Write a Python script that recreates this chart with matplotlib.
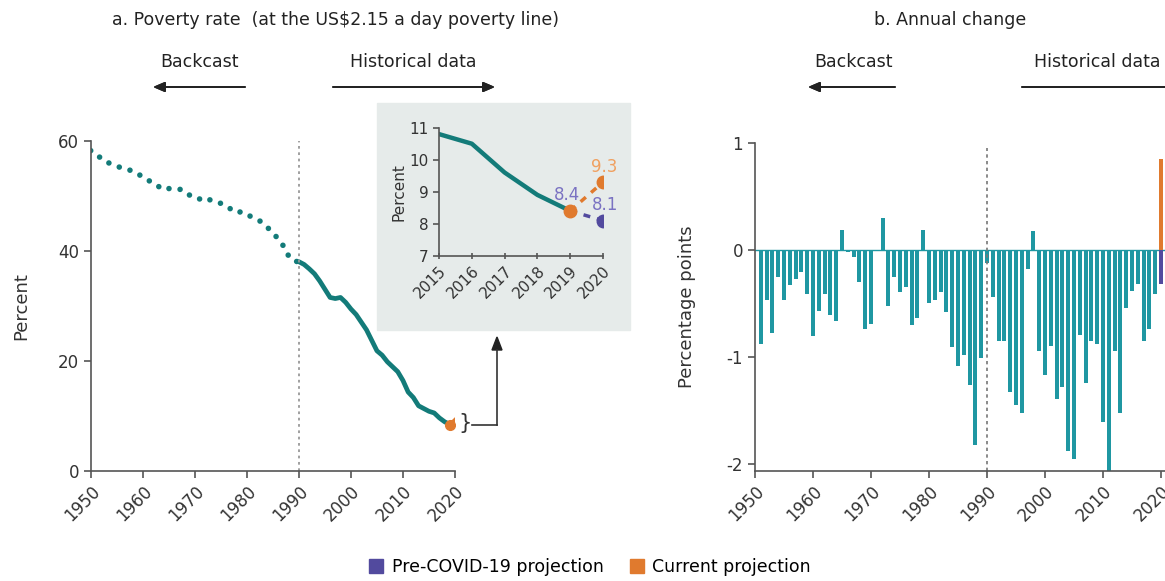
import matplotlib.pyplot as plt
from matplotlib.lines import Line2D
from matplotlib.patches import Patch, Rectangle

plt.rcParams["font.family"] = ["Liberation Sans Narrow", "DejaVu Sans"]

# panel a: poverty rate (percent), 1950-2019
rate_years = list(range(1950, 2020))
rate = [
    58.2, 57.3, 56.9, 56.1, 55.8, 55.4, 55.0, 54.8, 54.5, 54.1,
    53.3, 52.8, 52.4, 51.7, 51.1, 51.3, 51.2, 51.2, 50.9, 50.1,
    49.5, 49.4, 49.7, 49.2, 49.0, 48.6, 48.2, 47.5, 46.9, 47.1,
    46.6, 46.1, 45.7, 45.1, 44.2, 43.2, 42.2, 40.9, 39.1, 38.1,
    38.0, 37.5, 36.7, 35.8, 34.5, 33.0, 31.5, 31.3, 31.5, 30.6,
    29.4, 28.4, 27.0, 25.6, 23.7, 21.8, 21.0, 19.8, 18.9, 18.0,
    16.4, 14.3, 13.3, 11.8, 11.3, 10.8, 10.5, 9.6, 8.9, 8.4,
]

# inset
inset_years = [2015, 2016, 2017, 2018, 2019]
inset_rate = [10.8, 10.5, 9.6, 8.9, 8.4]
proj_years = [2019, 2020]
pre_covid = [8.4, 8.1]
current = [8.4, 9.3]

# panel b: annual change (percentage points), 1951-2019
change_years = list(range(1951, 2020))
change = [
    -0.88, -0.47, -0.78, -0.25, -0.47, -0.33, -0.27, -0.21, -0.41, -0.80,
    -0.57, -0.41, -0.61, -0.66, 0.19, -0.02, -0.07, -0.30, -0.74, -0.69,
    -0.01, 0.30, -0.52, -0.25, -0.39, -0.35, -0.70, -0.64, 0.19, -0.50,
    -0.47, -0.39, -0.58, -0.91, -1.08, -0.98, -1.26, -1.82, -1.01, -0.12,
    -0.44, -0.85, -0.85, -1.33, -1.45, -1.52, -0.18, 0.18, -0.94, -1.17,
    -0.90, -1.39, -1.28, -1.88, -1.95, -0.79, -1.24, -0.85, -0.88, -1.61,
    -2.08, -0.94, -1.52, -0.54, -0.38, -0.32, -0.85, -0.74, -0.41,
]
change_2020_pre = -0.32
change_2020_cur = 0.85

teal = "#137b79"
bar_teal = "#1f97a2"
orange = "#e07a2e"
purple = "#524a9e"
grey = "#555555"

W, H = 1165, 581
fig = plt.figure(figsize=(W / 100, H / 100), dpi=100)


def px(x0, y0, x1, y1):
    # pixel box (top-left origin) -> figure fractions
    return [x0 / W, 1 - y1 / H, (x1 - x0) / W, (y1 - y0) / H]


def style(ax):
    for s in ["top", "right"]:
        ax.spines[s].set_visible(False)
    for s in ["left", "bottom"]:
        ax.spines[s].set_color(grey)
        ax.spines[s].set_linewidth(1.2)
    ax.tick_params(colors=grey, labelcolor="#333333", labelsize=12, length=5, width=1.2)
    for lab in ax.get_xticklabels():
        lab.set_rotation(45)
        lab.set_ha("right")
        lab.set_rotation_mode("anchor")


# panel a
ax1 = fig.add_axes(px(90.7, 140.7, 455, 470.7))
back = [v for y, v in zip(rate_years, rate) if y <= 1990]
hist = [v for y, v in zip(rate_years, rate) if y >= 1990]
ax1.plot(rate_years[:len(back)], back, color=teal, lw=4,
         linestyle=(0, (0.01, 2.0)), dash_capstyle="round")
ax1.plot(rate_years[len(back) - 1:], hist, color=teal, lw=3.4, solid_capstyle="round")
ax1.plot(proj_years, current, color=orange, lw=2.5)
ax1.plot(proj_years[0], current[0], "o", color=orange, ms=7)
ax1.axvline(1990, color="#999999", lw=1.3, linestyle=(0, (1.5, 2)))
ax1.set_xlim(1950, 2020)
ax1.set_ylim(0, 60)
ax1.set_xticks(range(1950, 2021, 10))
ax1.set_yticks([0, 20, 40, 60])
ax1.set_ylabel("Percent", fontsize=13, color="#333333", labelpad=20)
style(ax1)
ax1.text(2020.6, 8.6, "}", fontsize=15, color="#333333", va="center", ha="left")

# inset box
fig.add_artist(Rectangle((377 / W, 1 - 330 / H), (630 - 377) / W, (330 - 103) / H,
                         transform=fig.transFigure, color="#e6ebea", zorder=1))
ax_in = fig.add_axes(px(439, 127.7, 603, 255.7), zorder=2)
ax_in.set_facecolor("none")
ax_in.plot(inset_years, inset_rate, color=teal, lw=3.2, solid_capstyle="round")
ax_in.plot(proj_years, pre_covid, color=purple, lw=2.5, linestyle=(0, (2, 2)))
ax_in.plot(proj_years, current, color=orange, lw=2.5, linestyle=(0, (2, 2)))
ax_in.plot(proj_years[1], pre_covid[1], "o", color=purple, ms=9)
ax_in.plot(proj_years[1], current[1], "o", color=orange, ms=9)
ax_in.plot(proj_years[0], current[0], "o", color=orange, ms=9)
ax_in.text(2018.9, 8.6, "8.4", color="#7a72c2", fontsize=12, ha="center", va="bottom")
ax_in.text(2020.05, 9.5, "9.3", color="#f0a060", fontsize=12, ha="center", va="bottom")
ax_in.text(2020.05, 8.3, "8.1", color="#7a72c2", fontsize=12, ha="center", va="bottom")
ax_in.set_xlim(2015, 2020)
ax_in.set_ylim(7, 11)
ax_in.set_xticks(inset_years + [2020])
ax_in.set_yticks([7, 8, 9, 10, 11])
ax_in.set_ylabel("Percent", fontsize=11, color="#333333", labelpad=2)
style(ax_in)
ax_in.tick_params(labelsize=11, length=4, direction="inout")
ax_in.tick_params(axis="y", direction="out")

# connector from brace to inset
fig.add_artist(Line2D([472 / W, 497 / W], [1 - 425 / H, 1 - 425 / H],
                      transform=fig.transFigure, color="#333333", lw=1.2))
fig.add_artist(Line2D([497 / W, 497 / W], [1 - 425 / H, 1 - 350 / H],
                      transform=fig.transFigure, color="#333333", lw=1.2))
fig.patches.append(plt.Polygon([[492 / W, 1 - 350 / H], [502 / W, 1 - 350 / H], [497 / W, 1 - 337 / H]],
                               closed=True, transform=fig.transFigure, color="#222222"))

# panel b
ax2 = fig.add_axes(px(755, 142.7, 755 + 75 * 5.8, 470.7))
ax2.bar(change_years, change, width=0.72, color=bar_teal)
ax2.bar(2020, change_2020_pre, width=0.72, color=purple)
ax2.bar(2020, change_2020_cur, width=0.72, color=orange)
ax2.axhline(0, color=bar_teal, lw=1, zorder=0)
ax2.plot([1990, 1990], [-2.06, 0.95], color="#777777", lw=1.2, linestyle=(0, (2, 2)))
ax2.set_xlim(1950, 2025)
ax2.set_ylim(-2.06, 1.0)
ax2.set_xticks(range(1950, 2021, 10))
ax2.set_yticks([-2, -1, 0, 1])
ax2.set_yticklabels(["-2", "-1", "0", "1"])
ax2.set_ylabel("Percentage points", fontsize=13, color="#333333", labelpad=22)
style(ax2)

# titles and direction arrows
fig.text(335 / W, 1 - 20 / H, "a. Poverty rate  (at the US$2.15 a day poverty line)",
         ha="center", va="center", fontsize=12.5, color="#222222")
fig.text(950 / W, 1 - 20 / H, "b. Annual change", ha="center", va="center",
         fontsize=12.5, color="#222222")
labels = [("Backcast", 200, 245, 153), ("Historical data", 413, 333, 495),
          ("Backcast", 853, 895, 808), ("Historical data", 1097, 1022, 1200)]
for txt, tx, x0, x1 in labels:
    fig.text(tx / W, 1 - 62 / H, txt, ha="center", va="center", fontsize=12.5, color="#222222")
    fig.add_artist(plt.annotate("", xy=(x1, H - 87), xytext=(x0, H - 87),
                                xycoords="figure pixels", textcoords="figure pixels",
                                arrowprops=dict(arrowstyle="-|>,head_length=0.7,head_width=0.3",
                                                color="#222222", lw=1.3, shrinkA=0, shrinkB=0)))

handles = [Patch(color=purple, label="Pre-COVID-19 projection"),
           Patch(color=orange, label="Current projection")]
fig.legend(handles=handles, loc="center", bbox_to_anchor=(590 / W, 1 - 567 / H), ncol=2,
           frameon=False, fontsize=12.5, handlelength=0.8, handleheight=0.8,
           handletextpad=0.5, columnspacing=1.5)

fig.savefig("out.png", dpi=100)
